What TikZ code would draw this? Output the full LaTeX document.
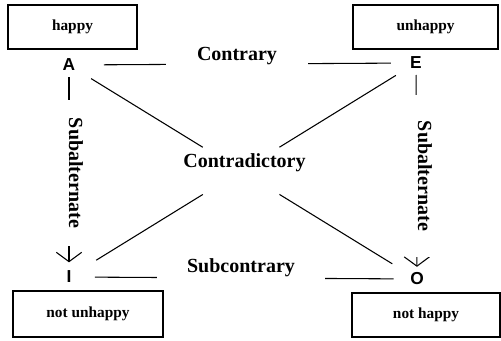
\documentclass[tikz,border=0pt]{standalone}
\usepackage{fontspec}
\setmainfont{Liberation Serif}
\newfontfamily\cornerfont{Liberation Sans}
\usetikzlibrary{arrows.meta}

\begin{document}
\begin{tikzpicture}[x=0.75pt,y=-0.75pt,
  termbox/.style={draw,line width=0.8pt,font=\fontsize{11.5}{13}\selectfont\bfseries},
  corner/.style={font=\cornerfont\fontsize{13}{15}\selectfont\bfseries},
  rel/.style={line width=0.8pt},
  relname/.style={fill=white,font=\fontsize{15}{18}\selectfont\bfseries},
  subalt/.style={rel,-{Straight Barb[length=7pt,width=19pt]}}]
\useasboundingbox (0,0) rectangle (501,341);
% term boxes
\node[termbox,minimum width=96.75pt,minimum height=33pt] (happy) at (72.5,27) {happy};
\node[termbox,minimum width=108.75pt,minimum height=33pt] (unhappy) at (425.5,27) {unhappy};
\node[termbox,minimum width=112.5pt,minimum height=34.5pt] (notunhappy) at (88,314) {not unhappy};
\node[termbox,minimum width=111pt,minimum height=33pt] (nothappy) at (426,315) {not happy};
% corners of the square
\node[corner] (A) at (69,65) {A};
\node[corner] (E) at (416,63) {E};
\node[corner] (I) at (69,277) {I};
\node[corner] (O) at (417,279) {O};
\coordinate (X) at (intersection of A--O and E--I);
% contrary and subcontrary
\draw[rel,shorten <=18pt,shorten >=11pt] (A) -- (E);
\draw[rel,shorten <=14pt,shorten >=9pt] (I) -- (O);
% subalternate
\draw[subalt,shorten <=1pt,shorten >=3pt] (A) -- (I);
\draw[subalt,shorten <=1pt,shorten >=1pt] (E) -- (O);
% contradictory
\draw[rel,shorten <=19.5pt,shorten >=33.75pt] (A.center) -- (X);
\draw[rel,shorten <=21.75pt,shorten >=33.75pt] (O.center) -- (X);
\draw[rel,shorten <=17.7pt,shorten >=33.75pt] (E.center) -- (X);
\draw[rel,shorten <=24pt,shorten >=33.75pt] (I.center) -- (X);
% names of the relations
\node[relname,inner xsep=23pt,inner ysep=1pt] (contrary) at (237,56.5) {Contrary};
\node[relname,inner xsep=22.5pt,inner ysep=6pt] (subcontrary) at (241,268) {Subcontrary};
\node[relname,rotate=-90,inner xsep=13.5pt] (subaltL) at (76,173) {Subalternate};
\node[relname,rotate=-90,inner xsep=19.5pt] (subaltR) at (425,176) {Subalternate};
\node[font=\fontsize{15}{18}\selectfont\bfseries] (contradictory) at (244.5,163) {Contradictory};
\end{tikzpicture}
\end{document}
